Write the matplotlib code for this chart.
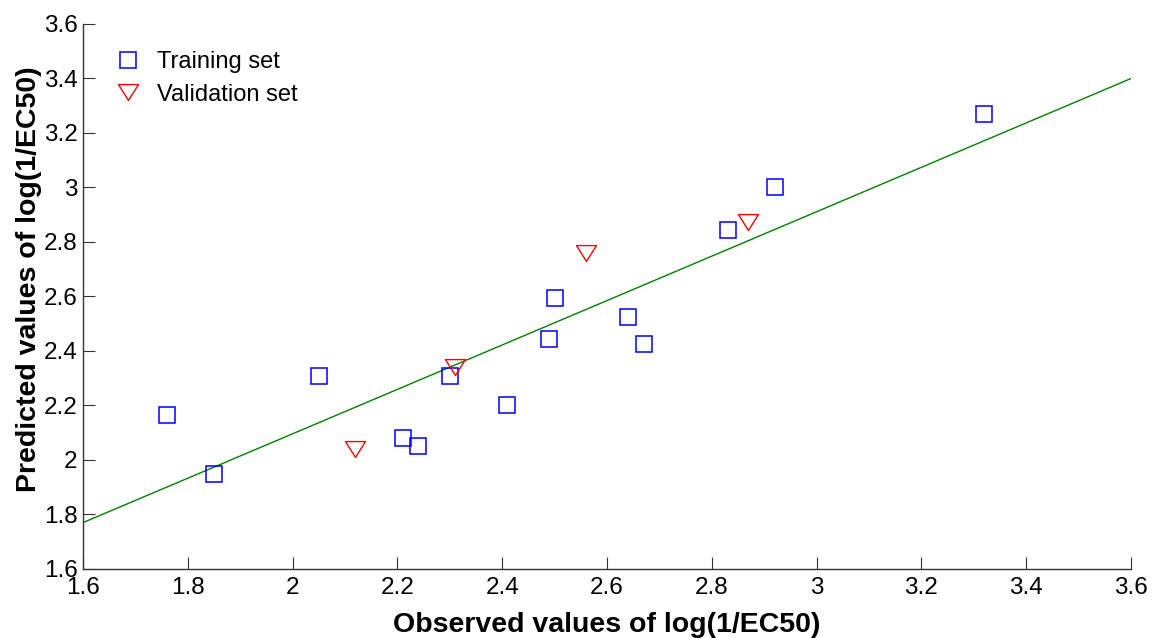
import matplotlib
matplotlib.use("Agg")
import matplotlib.pyplot as plt
import numpy as np
from matplotlib.path import Path

plt.rcParams['font.family'] = ['Liberation Sans', 'DejaVu Sans']

# training set (observed, predicted)
train_obs = [1.76, 1.85, 2.05, 2.21, 2.24, 2.30, 2.41, 2.49, 2.50, 2.64, 2.67, 2.83, 2.92, 3.32]
train_pred = [2.165, 1.95, 2.31, 2.08, 2.05, 2.31, 2.20, 2.445, 2.595, 2.525, 2.425, 2.845, 3.00, 3.27]

# validation set
val_obs = [2.12, 2.31, 2.56, 2.87]
val_pred = [2.04, 2.34, 2.76, 2.875]

# fitted line end points
line_x = [1.6, 3.6]
line_y = [1.77, 3.40]

xticks = [1.6, 1.8, 2.0, 2.2, 2.4, 2.6, 2.8, 3.0, 3.2, 3.4, 3.6]
yticks = [1.6, 1.8, 2.0, 2.2, 2.4, 2.6, 2.8, 3.0, 3.2, 3.4, 3.6]
tick_labels = ["1.6", "1.8", "2", "2.2", "2.4", "2.6", "2.8", "3", "3.2", "3.4", "3.6"]

# wide downward triangle like the matlab 'v'
tri = Path([(-0.6, 0.475), (0.6, 0.475), (0, -0.475), (-0.6, 0.475)],
           [Path.MOVETO, Path.LINETO, Path.LINETO, Path.CLOSEPOLY])

fig = plt.figure(figsize=(11.52, 6.38), dpi=100)
ax = fig.add_axes([0.072, 0.1082, 0.9098, 0.8542])

ax.plot(line_x, line_y, color=(0, 0.5, 0), linewidth=1.0)
ax.plot(train_obs, train_pred, linestyle='none', marker='s', markersize=11.5,
        markerfacecolor='none', markeredgecolor='blue', markeredgewidth=1.1,
        label='Training set')
ax.plot(val_obs, val_pred, linestyle='none', marker=tri, markersize=14.4,
        markerfacecolor='none', markeredgecolor='red', markeredgewidth=1.0,
        label='Validation set')

ax.set_xlim(1.6, 3.6)
ax.set_ylim(1.6, 3.6)
ax.set_xticks(xticks)
ax.set_xticklabels(tick_labels)
ax.set_yticks(yticks)
ax.set_yticklabels(tick_labels)
ax.tick_params(direction='in', length=8.5, width=0.8, labelsize=17.5, colors='#333333',
               labelcolor='black')
ax.tick_params(axis='x', pad=6)
ax.tick_params(axis='y', pad=4)

for side in ['top', 'right']:
    ax.spines[side].set_visible(False)
for side in ['left', 'bottom']:
    ax.spines[side].set_linewidth(1.0)
    ax.spines[side].set_color('#333333')

ax.set_xlabel("Observed values of log(1/EC50)", fontsize=20.5, fontweight='bold', labelpad=9)
ax.set_ylabel("Predicted values of log(1/EC50)", fontsize=20.5, fontweight='bold')
ax.yaxis.set_label_coords(-0.039, 0.532)

ax.legend(loc='upper left', bbox_to_anchor=(0.0227, 0.968), borderaxespad=0,
          frameon=False, fontsize=17, handlelength=1.0, handletextpad=0.75,
          labelspacing=0.46, numpoints=1)

plt.savefig("out.png", dpi=100)
